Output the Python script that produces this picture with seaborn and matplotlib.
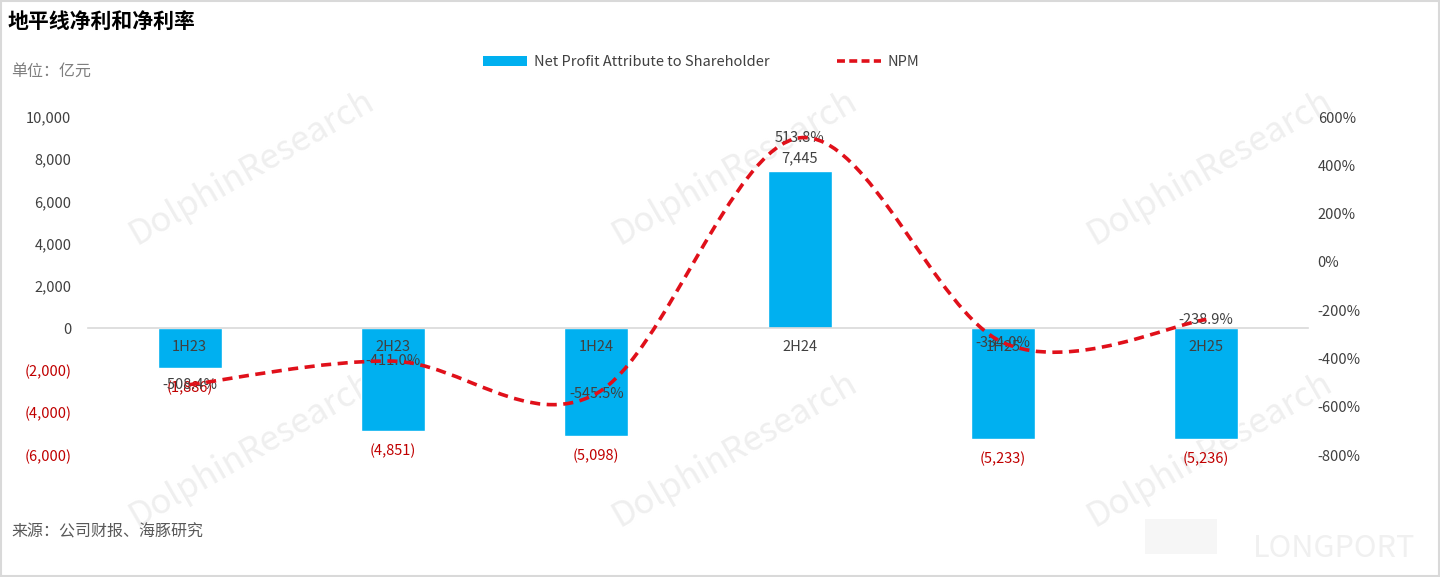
import matplotlib
matplotlib.use('Agg')
import matplotlib.pyplot as plt
from matplotlib.path import Path
from matplotlib.patches import PathPatch, Patch, Rectangle
from matplotlib.lines import Line2D
import pandas as pd
import seaborn as sns

# data
periods = ['1H23', '2H23', '1H24', '2H24', '1H25', '2H25']
net_profit = [-1886, -4851, -5098, 7445, -5233, -5236]      # 亿元
npm = [-5.084, -4.110, -5.455, 5.138, -3.340, -2.389]        # 1.0 = 100%

left_ticks = list(range(-6000, 10001, 2000))
right_ticks = list(range(-8, 7, 2))

BLUE = '#00B0F0'
RED = '#E0101A'
NEG_RED = '#C00000'
TXT = '#404040'

sns.set_theme(style='white')
plt.rcParams['font.family'] = ['Noto Sans CJK SC', 'DejaVu Sans']
plt.rcParams['axes.unicode_minus'] = False

df = pd.DataFrame({'period': periods, 'profit': net_profit, 'npm': npm})

fig = plt.figure(figsize=(14.4, 5.77), dpi=100)
fig.patch.set_facecolor('white')

# watermarks behind everything
for cx, cy in [(0.175, 0.71), (0.51, 0.71), (0.84, 0.71),
               (0.175, 0.22), (0.51, 0.22), (0.84, 0.22)]:
    fig.text(cx, cy, 'DolphinResearch', rotation=30, ha='center', va='center',
             fontsize=25, color='#EFEFEF', zorder=-5)
fig.text(0.87, 0.05, 'LONGPORT', ha='left', va='center', fontsize=22,
         color='#F0F0F0', zorder=-5)
fig.patches.append(Rectangle((0.795, 0.04), 0.05, 0.06, transform=fig.transFigure,
                             facecolor='#F6F6F6', edgecolor='none', zorder=-5))

ax = fig.add_axes([0.0611, 0.2114, 0.8472, 0.5858])
ax.set_facecolor('none')
sns.barplot(data=df, x='period', y='profit', color=BLUE, saturation=1,
            width=0.315, ax=ax)
ax.set_xlim(-0.5, len(periods) - 0.5)
ax.set_ylim(-6000, 10000)
ax.set_axisbelow(False)
ax.set_xlabel('')
ax.set_ylabel('')

for s in ['top', 'left', 'right']:
    ax.spines[s].set_visible(False)
ax.spines['bottom'].set_position(('data', 0))
ax.spines['bottom'].set_color('#D9D9D9')
ax.spines['bottom'].set_linewidth(1.2)
ax.tick_params(axis='x', length=0, pad=8.5, labelsize=10.5, labelcolor=TXT)

left_labels = [f'{v:,}' if v >= 0 else f'({-v:,})' for v in left_ticks]
ax.set_yticks(left_ticks, labels=left_labels)
ax.tick_params(axis='y', length=0, pad=12, labelsize=10.5)
for lab, v in zip(ax.get_yticklabels(), left_ticks):
    lab.set_color(NEG_RED if v < 0 else TXT)

bars = ax.containers[0]
ax.bar_label(bars, labels=[f'{v:,}' if v > 0 else '' for v in net_profit],
             padding=4, color=TXT, fontsize=10.5)
ax.bar_label(bars, labels=[f'({-v:,})' if v < 0 else '' for v in net_profit],
             padding=9, color=NEG_RED, fontsize=10.5)

# margin line on the right axis, smoothed like the spreadsheet chart
ax2 = ax.twinx()
ax2.set_ylim(-8, 6)
for s in ax2.spines.values():
    s.set_visible(False)
ax2.set_yticks(right_ticks, labels=[f'{v * 100}%' for v in right_ticks])
ax2.tick_params(axis='y', length=0, pad=7, labelsize=10.5, labelcolor=TXT)

pts = list(zip(range(len(periods)), npm))
verts = [pts[0]]
codes = [Path.MOVETO]
for i in range(len(pts) - 1):
    p0 = pts[i - 1] if i > 0 else pts[i]
    p1, p2 = pts[i], pts[i + 1]
    p3 = pts[i + 2] if i + 2 < len(pts) else pts[i + 1]
    c1 = (p1[0] + (p2[0] - p0[0]) / 6, p1[1] + (p2[1] - p0[1]) / 6)
    c2 = (p2[0] - (p3[0] - p1[0]) / 6, p2[1] - (p3[1] - p1[1]) / 6)
    verts += [c1, c2, p2]
    codes += [Path.CURVE4] * 3
ax2.add_patch(PathPatch(Path(verts, codes), fill=False, edgecolor=RED, lw=2.6,
                        linestyle=(0, (2.8, 1.8)), capstyle='butt', zorder=3))

for i, v in enumerate(npm):
    ax2.text(i, v, f'{v * 100:.1f}%', ha='center', va='center',
             fontsize=10.5, color=TXT, zorder=2)

handles = [Patch(facecolor=BLUE, edgecolor='none'),
           Line2D([0], [0], color=RED, lw=2.6, linestyle=(0, (2.2, 1.2)))]
fig.legend(handles, ['Net Profit Attribute to Shareholder', 'NPM'],
           loc='center', bbox_to_anchor=(0.487, 0.8925), ncol=2, frameon=False,
           fontsize=10.5, handlelength=3, columnspacing=4.6, handletextpad=0.5,
           labelcolor=TXT)

fig.text(0.0055, 0.962, '地平线净利和净利率', ha='left', va='center',
         fontsize=15, fontweight='bold', color='black')
fig.text(0.008, 0.877, '单位：亿元', ha='left', va='center',
         fontsize=11.5, color='#7F7F7F')
fig.text(0.008, 0.078, '来源：公司财报、海豚研究', ha='left', va='center',
         fontsize=11.5, color='#595959')

fig.patches.append(Rectangle((0.0005, 0.001), 0.999, 0.998, transform=fig.transFigure,
                             fill=False, edgecolor='#D9D9D9', lw=1.5, zorder=10))

fig.savefig('out.png', dpi=100)
